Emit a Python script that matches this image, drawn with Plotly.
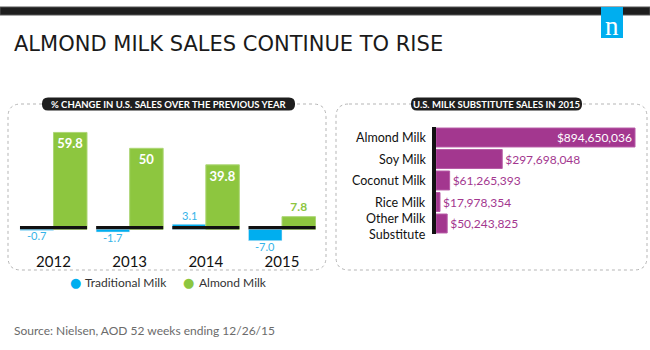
import plotly.graph_objects as go

# ---------------- data ----------------
years = [2012, 2013, 2014, 2015]
year_labels = ["2012", "2013", "2014", "2015"]
traditional_milk = [-0.7, -1.7, 3.1, -7.0]
almond_milk = [59.8, 50, 39.8, 7.8]
almond_text_pos = ["inside", "inside", "inside", "outside"]

substitutes = ["Almond Milk", "Soy Milk", "Coconut Milk", "Rice Milk", "Other Milk<br>Substitute"]
substitute_sales = [894650036, 297698048, 61265393, 17978354, 50243825]
substitute_text_pos = ["inside", "outside", "outside", "outside", "outside"]

title_text = "ALMOND MILK SALES CONTINUE TO RISE"
left_title = "% CHANGE IN U.S. SALES OVER THE PREVIOUS YEAR"
right_title = "U.S. MILK SUBSTITUTE SALES IN 2015"
source_text = "Source: Nielsen, AOD 52 weeks ending 12/26/15"
series_names = ["Traditional Milk", "Almond Milk"]

# ---------------- helpers ----------------
W, H = 650, 350
def px(x): return x / W
def py(y): return 1 - y / H

BLUE = "#00aeef"
BLUE_TXT = "#35b3e8"
GREEN = "#8dc63f"
PURPLE = "#a3378f"
FONT = "Lato"
BAR_W = 0.44

def rounded_rect(x0, y0, x1, y1, r):
    X = lambda v: px(v)
    Y = lambda v: py(v)
    return (f"M {X(x0+r)} {Y(y0)} L {X(x1-r)} {Y(y0)} Q {X(x1)} {Y(y0)} {X(x1)} {Y(y0+r)} "
            f"L {X(x1)} {Y(y1-r)} Q {X(x1)} {Y(y1)} {X(x1-r)} {Y(y1)} "
            f"L {X(x0+r)} {Y(y1)} Q {X(x0)} {Y(y1)} {X(x0)} {Y(y1-r)} "
            f"L {X(x0)} {Y(y0+r)} Q {X(x0)} {Y(y0)} {X(x0+r)} {Y(y0)} Z")

fig = go.Figure()

# ---------------- left chart ----------------
fig.add_trace(go.Bar(
    x=years, y=traditional_milk, name=series_names[0],
    marker=dict(color=BLUE), offset=-BAR_W, width=BAR_W,
    hoverinfo="x+y", xaxis="x", yaxis="y"))
fig.add_trace(go.Bar(
    x=years, y=almond_milk, name=series_names[1],
    marker=dict(color=GREEN, line=dict(color="#add676", width=1)),
    offset=0, width=BAR_W,
    texttemplate="%{y}", textposition=almond_text_pos, insidetextanchor="end",
    insidetextfont=dict(color="white", size=13, family=FONT, weight="bold"),
    outsidetextfont=dict(color=GREEN, size=12, family=FONT, weight="bold"),
    cliponaxis=False, constraintext="none", hoverinfo="x+y",
    xaxis="x", yaxis="y"))
# black baseline under each year's pair of bars
fig.add_trace(go.Bar(
    x=years, y=[2] * len(years), base=0, offset=-BAR_W, width=2 * BAR_W,
    marker=dict(color="#111111", line=dict(width=0)),
    hoverinfo="skip", showlegend=False, xaxis="x", yaxis="y"))

# ---------------- right chart ----------------
fig.add_trace(go.Bar(
    y=substitutes, x=substitute_sales, orientation="h",
    marker=dict(color=PURPLE, line=dict(color="#b65aa6", width=1)),
    texttemplate="$%{x:,.0f}", textposition=substitute_text_pos, insidetextanchor="end",
    insidetextfont=dict(color="white", size=12, family=FONT),
    outsidetextfont=dict(color=PURPLE, size=12, family=FONT),
    cliponaxis=False, constraintext="none", hoverinfo="x+y",
    xaxis="x2", yaxis="y2"))

shapes = [
    # top band
    dict(type="rect", xref="paper", yref="paper", x0=0, x1=1, y0=py(15), y1=py(7),
         fillcolor="#1e1e1e", line=dict(color="#555555", width=1), layer="above"),
    # logo square
    dict(type="rect", xref="paper", yref="paper", x0=px(601), x1=px(623), y0=py(38), y1=py(7),
         fillcolor=BLUE, line=dict(width=0), layer="above"),
    # panels
    dict(type="path", xref="paper", yref="paper", path=rounded_rect(8, 104, 326, 270, 13),
         line=dict(color="#b5b5b5", width=1, dash="dot"), layer="below"),
    dict(type="path", xref="paper", yref="paper", path=rounded_rect(336, 104, 647, 270, 13),
         line=dict(color="#b5b5b5", width=1, dash="dot"), layer="below"),
    # pills
    dict(type="path", xref="paper", yref="paper", path=rounded_rect(42, 97.5, 295, 110.5, 6),
         fillcolor="#1e1e1e", line=dict(width=0), layer="above"),
    dict(type="path", xref="paper", yref="paper", path=rounded_rect(411, 97.5, 582, 110.5, 6),
         fillcolor="#1e1e1e", line=dict(width=0), layer="above"),
]

annotations = [
    dict(text=title_text, x=px(12), y=py(44), xref="paper", yref="paper", xanchor="left",
         yanchor="middle", showarrow=False, font=dict(family="DejaVu Sans", size=21, color="#1a1a1a")),
    dict(text="n", x=px(612), y=py(26), xref="paper", yref="paper", xanchor="center",
         yanchor="middle", showarrow=False, font=dict(family="Liberation Serif", size=27, color="white")),
    dict(text=left_title, x=px(168.5), y=py(104), xref="paper", yref="paper", xanchor="center",
         yanchor="middle", showarrow=False, font=dict(family=FONT, size=9.5, color="white", weight="bold")),
    dict(text=right_title, x=px(496.5), y=py(104), xref="paper", yref="paper", xanchor="center",
         yanchor="middle", showarrow=False, font=dict(family=FONT, size=9.5, color="white", weight="bold")),
    # legend
    dict(text="●", x=px(75), y=py(282), xref="paper", yref="paper", xanchor="center",
         yanchor="middle", showarrow=False, font=dict(family="DejaVu Sans", size=13, color=BLUE)),
    dict(text=series_names[0], x=px(83), y=py(282), xref="paper", yref="paper", xanchor="left",
         yanchor="middle", showarrow=False, font=dict(family=FONT, size=12, color="#333333")),
    dict(text="●", x=px(188), y=py(282), xref="paper", yref="paper", xanchor="center",
         yanchor="middle", showarrow=False, font=dict(family="DejaVu Sans", size=13, color=GREEN)),
    dict(text=series_names[1], x=px(197), y=py(282), xref="paper", yref="paper", xanchor="left",
         yanchor="middle", showarrow=False, font=dict(family=FONT, size=12, color="#333333")),
    dict(text=source_text, x=px(12), y=py(330), xref="paper", yref="paper", xanchor="left",
         yanchor="middle", showarrow=False, font=dict(family=FONT, size=12, color="#6b6b6b")),
]

# value labels of the traditional-milk bars (just outside each bar's end)
for yr, v in zip(years, traditional_milk):
    annotations.append(dict(
        text=f"{v:.1f}", x=yr - BAR_W / 2, y=v, xref="x", yref="y",
        xanchor="center", yanchor="top" if v < 0 else "bottom",
        yshift=3 if v < 0 else 0, showarrow=False,
        font=dict(family=FONT, size=11, color=BLUE_TXT)))

# category labels of the right chart (placed as annotations for tight two-line leading)
for cat in substitutes:
    two_line = "<br>" in cat
    annotations.append(dict(
        text=cat, x=px(428), y=cat, xref="paper", yref="y2", xanchor="right", yanchor="middle",
        align="right", showarrow=False, yshift=-3 if two_line else 0,
        font=dict(family=FONT, size=12.5, color="#111111")))

fig.update_layout(
    width=W, height=H, margin=dict(l=0, r=0, t=0, b=0),
    paper_bgcolor="white", plot_bgcolor="rgba(0,0,0,0)",
    barmode="overlay", bargap=0.12, showlegend=False,
    font=dict(family=FONT, color="#111111"),
    xaxis=dict(domain=[px(10), px(320)], range=[2011.429, 2015.499], anchor="y",
               tickmode="array", tickvals=years, ticktext=year_labels,
               showgrid=False, zeroline=False, showline=False, ticks="",
               ticklabelstandoff=3,
               tickfont=dict(family=FONT, size=15, color="#111111")),
    yaxis=dict(domain=[py(248), py(120)], range=[-11.54, 67.47], anchor="x", visible=False),
    xaxis2=dict(domain=[px(436), px(645)], range=[0, 939.6e6], anchor="y2", visible=False),
    yaxis2=dict(domain=[py(234.25), py(126.75)], range=[4.5, -0.5], anchor="x2",
                type="category", showline=True, linewidth=4, linecolor="#111111",
                showgrid=False, zeroline=False, ticks="", showticklabels=False),
    shapes=shapes, annotations=annotations,
)

fig.write_html("out.html")
